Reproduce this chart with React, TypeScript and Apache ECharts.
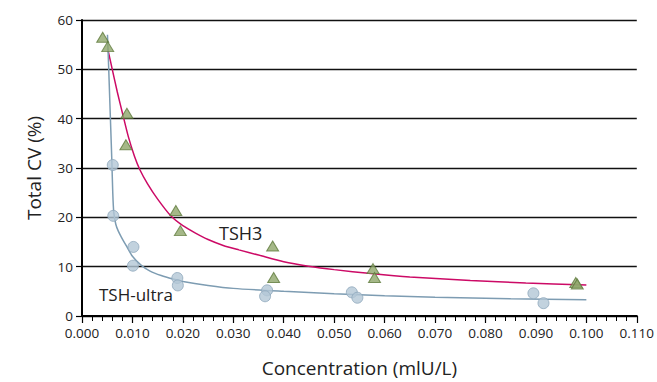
import React, { useEffect, useRef } from "react";
import * as echarts from "echarts";

const xTicks = ["0.000","0.010","0.020","0.030","0.040","0.050","0.060","0.070","0.080","0.090","0.100","0.110"];
const yTicks = [0, 10, 20, 30, 40, 50, 60];

// TSH3 measured points (triangles)
const tsh3Points: [number, number][] = [
  [0.0041, 56.5], [0.0051, 54.6], [0.0089, 41.1], [0.0087, 34.7],
  [0.0186, 21.4], [0.0195, 17.3], [0.0378, 14.2], [0.0380, 7.8],
  [0.0577, 9.6], [0.0580, 7.8], [0.0979, 6.8], [0.0982, 6.5],
];
// TSH-ultra measured points (circles)
const ultraPoints: [number, number][] = [
  [0.0061, 30.6], [0.0062, 20.3], [0.0102, 14.0], [0.0101, 10.2],
  [0.0189, 7.7], [0.0190, 6.2], [0.0367, 5.2], [0.0363, 4.0],
  [0.0535, 4.8], [0.0546, 3.7], [0.0895, 4.6], [0.0915, 2.6],
];
// Fitted curves
const tsh3CurveX = [0.0052, 0.0060, 0.0070, 0.0081, 0.0092, 0.0104, 0.0115, 0.0130, 0.0150, 0.0177, 0.0200, 0.0225, 0.0250, 0.0280, 0.0311, 0.0350, 0.0400, 0.0449, 0.0500, 0.0573, 0.0650, 0.0770, 0.0880, 0.1000];
const tsh3CurveY = [53.7, 50.0, 45.4, 40.8, 36.3, 32.4, 29.6, 26.8, 23.7, 20.2, 18.3, 16.8, 15.5, 14.3, 13.4, 12.35, 11.0, 10.1, 9.4, 8.6, 7.9, 7.2, 6.7, 6.3];
const ultraCurveX = [0.00505, 0.0053, 0.0055, 0.0057, 0.0059, 0.0061, 0.0063, 0.0067, 0.0072, 0.0078, 0.0088, 0.0100, 0.0117, 0.0135, 0.0157, 0.0180, 0.0200, 0.0250, 0.0300, 0.0400, 0.0500, 0.0600, 0.0700, 0.0850, 0.1000];
const ultraCurveY = [57.0, 50.0, 44.0, 38.0, 32.0, 25.0, 21.0, 18.6, 17.2, 16.0, 14.2, 12.1, 10.3, 9.1, 8.2, 7.5, 7.0, 6.2, 5.6, 5.0, 4.5, 4.1, 3.8, 3.5, 3.3];

const FONT = "Open Sans";

export default function App() {
  const ref = useRef<HTMLDivElement>(null);
  useEffect(() => {
    const chart = echarts.init(ref.current!, null, { renderer: "svg" });
    const tsh3Curve = tsh3CurveX.map((x, i) => [x, tsh3CurveY[i]]);
    const ultraCurve = ultraCurveX.map((x, i) => [x, ultraCurveY[i]]);
    chart.setOption({
      animation: false,
      backgroundColor: "#ffffff",
      grid: { left: 82, right: 16, top: 20, bottom: 61, containLabel: false },
      xAxis: {
        type: "value",
        min: 0,
        max: 0.11,
        interval: 0.01,
        name: "Concentration (mlU/L)",
        nameLocation: "middle",
        nameGap: 42,
        nameTextStyle: { fontFamily: FONT, fontSize: 19, color: "#222" },
        axisLine: { show: true, lineStyle: { color: "#000", width: 2 } },
        axisTick: { show: true, length: 7, lineStyle: { color: "#000", width: 1.2 } },
        minorTick: { show: true, splitNumber: 5, length: 5, lineStyle: { color: "#000", width: 1 } },
        splitLine: { show: false },
        axisLabel: {
          fontFamily: FONT, fontSize: 13.5, color: "#222", margin: 10,
          formatter: (v: number) => xTicks[Math.round(v / 0.01)] ?? "",
        },
      },
      yAxis: {
        type: "value",
        min: 0,
        max: 60,
        interval: 10,
        name: "Total CV (%)",
        nameLocation: "middle",
        nameGap: 39,
        nameTextStyle: { fontFamily: FONT, fontSize: 19, color: "#222" },
        axisLine: { show: true, lineStyle: { color: "#000", width: 2 } },
        axisTick: { show: true, length: 6, lineStyle: { color: "#000", width: 1.2 } },
        splitLine: { show: true, lineStyle: { color: "#111", width: 1.3 } },
        axisLabel: {
          fontFamily: FONT, fontSize: 13.5, color: "#222", margin: 9,
          formatter: (v: number) => (yTicks.includes(v) ? String(v) : ""),
        },
      },
      series: [
        {
          type: "line",
          data: tsh3Curve,
          smooth: 0.25,
          showSymbol: false,
          lineStyle: { color: "#cc0a66", width: 1.5 },
          z: 2,
        },
        {
          type: "line",
          data: ultraCurve,
          smooth: 0.25,
          showSymbol: false,
          lineStyle: { color: "#7d9cb2", width: 1.5 },
          z: 2,
        },
        {
          type: "scatter",
          data: ultraPoints,
          symbol: "circle",
          symbolSize: 11,
          itemStyle: { color: "#b3c7d6", borderColor: "#8ea8bb", borderWidth: 1 },
          z: 3,
        },
        {
          type: "scatter",
          data: tsh3Points,
          symbol: "triangle",
          symbolSize: [12, 10],
          itemStyle: { color: "#8ea66a", borderColor: "#5f7b3c", borderWidth: 1 },
          z: 4,
        },
      ],
      graphic: [
        {
          type: "text",
          left: 219,
          top: 224,
          style: { text: "TSH3", fontFamily: FONT, fontSize: 18, fill: "#222" },
          z: 10,
        },
        {
          type: "text",
          left: 99,
          top: 286,
          style: { text: "TSH-ultra", fontFamily: FONT, fontSize: 17, fill: "#222" },
          z: 10,
        },
      ],
    });
    return () => chart.dispose();
  }, []);
  return <div ref={ref} style={{ width: 657, height: 382, position: "absolute", left: 0, top: 0 }} />;
}
